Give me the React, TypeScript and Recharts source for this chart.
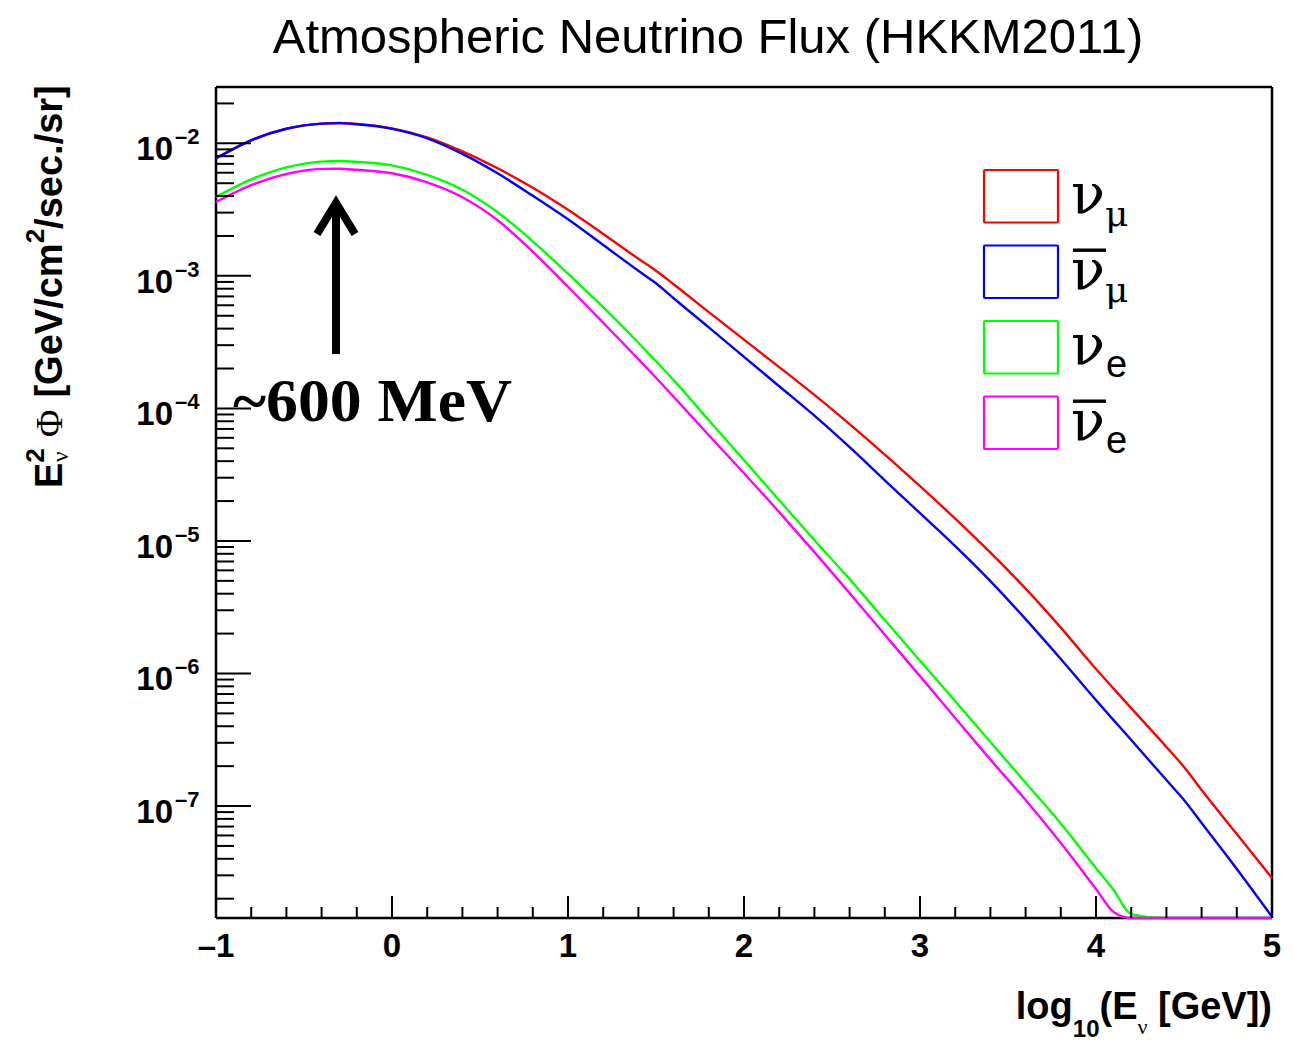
import React from "react";
import { LineChart, Line, XAxis, YAxis, ReferenceLine } from "recharts";

const W = 1294;
const H = 1042;
const SANS = "'Liberation Sans', Arial, Helvetica, sans-serif";
const SERIF = "'Liberation Serif', 'Times New Roman', serif";
const GREEK = "'DejaVu Serif', 'Liberation Serif', serif";

// ─── DATA ────────────────────────────────────────────────────────────────────

// log10(E_nu / GeV)
const LOG_E = [
  -1, -0.8, -0.6, -0.4, -0.3, -0.2, 0, 0.2, 0.4, 0.6, 0.8, 1.0, 1.2, 1.4, 1.5,
  1.6, 1.8, 2.0, 2.2, 2.4, 2.6, 2.8, 3.0, 3.2, 3.4, 3.6, 3.8, 4.0, 4.1, 4.2,
  4.4, 4.5, 4.6, 4.8, 5.0,
];

// axis range of E^2 Phi; values under Y_MIN are drawn on the floor
const Y_MIN = 1.43e-8;
const Y_MAX = 2.66e-2;

// E^2 Phi [GeV/cm^2/sec./sr]
const NU_MU = [
  7.71e-3, 1.054e-2, 1.288e-2, 1.409e-2, 1.422e-2, 1.403e-2, 1.297e-2, 1.11e-2,
  8.7e-3, 6.48e-3, 4.62e-3, 3.15e-3, 2.07e-3, 1.346e-3, 1.093e-3, 8.65e-4,
  5.33e-4, 3.3e-4, 2.05e-4, 1.264e-4, 7.6e-5, 4.48e-5, 2.59e-5, 1.473e-5,
  8.16e-6, 4.37e-6, 2.22e-6, 1.08e-6, 7.69e-7, 5.48e-7, 2.79e-7, 1.97e-7,
  1.32e-7, 6.15e-8, 2.86e-8,
];
const NU_MU_BAR = [
  7.71e-3, 1.054e-2, 1.288e-2, 1.409e-2, 1.42e-2, 1.391e-2, 1.286e-2, 1.091e-2,
  8.33e-3, 5.94e-3, 4.02e-3, 2.67e-3, 1.71e-3, 1.091e-3, 8.79e-4, 6.78e-4,
  4.09e-4, 2.45e-4, 1.47e-4, 8.81e-5, 5.1e-5, 2.87e-5, 1.62e-5, 9.14e-6,
  4.98e-6, 2.57e-6, 1.285e-6, 6.3e-7, 4.45e-7, 3.15e-7, 1.57e-7, 1.11e-7,
  7.45e-8, 3.35e-8, 1.46e-8,
];
const NU_E = [
  3.94e-3, 5.35e-3, 6.59e-3, 7.28e-3, 7.35e-3, 7.25e-3, 6.82e-3, 5.79e-3,
  4.46e-3, 3.02e-3, 1.823e-3, 1.037e-3, 5.8e-4, 3.13e-4, 2.27e-4, 1.633e-4,
  8.15e-5, 4.07e-5, 2.03e-5, 1.014e-5, 5.15e-6, 2.53e-6, 1.25e-6, 6.19e-7,
  3.04e-7, 1.5e-7, 7.38e-8, 3.4e-8, 2.33e-8, 1.53e-8, 1.43e-8, 1.43e-8,
  1.43e-8, 1.43e-8, 1.43e-8,
];
const NU_E_BAR = [
  3.61e-3, 4.83e-3, 5.87e-3, 6.41e-3, 6.43e-3, 6.31e-3, 5.94e-3, 5.08e-3,
  3.92e-3, 2.63e-3, 1.52e-3, 8.28e-4, 4.43e-4, 2.35e-4, 1.704e-4, 1.225e-4,
  6.28e-5, 3.24e-5, 1.65e-5, 8.24e-6, 4.04e-6, 1.96e-6, 9.55e-7, 4.61e-7,
  2.24e-7, 1.11e-7, 5.26e-8, 2.37e-8, 1.59e-8, 1.43e-8, 1.43e-8, 1.43e-8,
  1.43e-8, 1.43e-8, 1.43e-8,
];

// ticks
const X_MAJOR = [-1, 0, 1, 2, 3, 4, 5];
const X_MINOR_PER_UNIT = 5;
const Y_DECADES = [-8, -7, -6, -5, -4, -3, -2];
const Y_MANTISSAS = [1, 2, 3, 4, 5, 6, 7, 8, 9];

const SERIES = [
  { key: "numu", name: "nu_mu", color: "#ff0000", bar: false, sub: "\u03bc" },
  { key: "numubar", name: "anti nu_mu", color: "#0000ff", bar: true, sub: "\u03bc" },
  { key: "nue", name: "nu_e", color: "#00ff00", bar: false, sub: "e" },
  { key: "nuebar", name: "anti nu_e", color: "#ff00ff", bar: true, sub: "e" },
];

const rows = LOG_E.map((x, i) => ({
  x,
  numu: NU_MU[i],
  numubar: NU_MU_BAR[i],
  nue: NU_E[i],
  nuebar: NU_E_BAR[i],
}));

const X_TICKS: number[] = [];
for (let i = 0; i < X_MAJOR.length - 1; i++) {
  for (let k = 0; k < X_MINOR_PER_UNIT; k++) {
    X_TICKS.push(Math.round((X_MAJOR[i] + k / X_MINOR_PER_UNIT) * 100) / 100);
  }
}
X_TICKS.push(X_MAJOR[X_MAJOR.length - 1]);

const Y_TICKS = Y_DECADES.flatMap((d) =>
  Y_MANTISSAS.map((m) => Number((m * Math.pow(10, d)).toPrecision(3)))
).filter((v) => v >= Y_MIN && v <= Y_MAX);

// ─── TICKS (ROOT style, drawn inward) ────────────────────────────────────────

function XTick({ x, y, payload }: any) {
  const v = payload.value as number;
  const major = Math.abs(v - Math.round(v)) < 1e-6;
  return (
    <g>
      <line x1={x} x2={x} y1={y} y2={y - (major ? 22 : 11)} stroke="#000" strokeWidth={2} />
      {major && (
        <text
          x={x}
          y={y + 39}
          textAnchor="middle"
          fontFamily={SANS}
          fontWeight="bold"
          fontSize={33}
          fill="#000"
        >
          {v < 0 ? `\u2013${-v}` : `${v}`}
        </text>
      )}
    </g>
  );
}

function YTick({ x, y, payload }: any) {
  const v = payload.value as number;
  const e = Math.log10(v);
  const major = Math.abs(e - Math.round(e)) < 1e-6;
  return (
    <g>
      <line x1={x} x2={x + (major ? 35 : 18)} y1={y} y2={y} stroke="#000" strokeWidth={2} />
      {major && (
        <g fontFamily={SANS} fontWeight="bold" fill="#000">
          <text x={x - 43} y={y + 17} textAnchor="end" fontSize={33}>
            10
          </text>
          <text x={x - 41} y={y + 1} fontSize={22}>
            {`\u2013${-Math.round(e)}`}
          </text>
        </g>
      )}
    </g>
  );
}

// ─── OVERLAY: title, axis titles, legend, annotation ─────────────────────────

function Overlay() {
  return (
    <svg
      width={W}
      height={H}
      style={{ position: "absolute", left: 0, top: 0, pointerEvents: "none" }}
    >
      {/* title */}
      <text x={708} y={53} textAnchor="middle" fontFamily={SANS} fontSize={49} fill="#000">
        Atmospheric Neutrino Flux (HKKM2011)
      </text>

      {/* y title */}
      <text
        transform="translate(62,488) rotate(-90)"
        fontFamily={SANS}
        fontWeight="bold"
        fontSize={38}
        fill="#000"
      >
        <tspan>E</tspan>
        <tspan fontSize={26} dy={-18}>2</tspan>
        <tspan fontSize={24} dx={-14} dy={24} fontWeight="normal" fontFamily={SERIF}>
          {"\u03bd"}
        </tspan>
        <tspan dy={-6} dx={14} fontFamily={SERIF} fontWeight="normal">
          {"\u03a6"}
        </tspan>
        <tspan dx={12}>[GeV/cm</tspan>
        <tspan fontSize={26} dy={-18}>2</tspan>
        <tspan dy={18}>/sec./sr]</tspan>
      </text>

      {/* x title */}
      <text
        x={1272}
        y={1019}
        textAnchor="end"
        fontFamily={SANS}
        fontWeight="bold"
        fontSize={38}
        fill="#000"
      >
        <tspan>log</tspan>
        <tspan fontSize={24} dy={18}>10</tspan>
        <tspan dy={-18}>(E</tspan>
        <tspan fontSize={22} dy={15} fontWeight="normal" fontFamily={SERIF}>
          {"\u03bd"}
        </tspan>
        <tspan dy={-15}> [GeV])</tspan>
      </text>

      {/* legend */}
      {SERIES.map((s, i) => {
        const top = 170 + i * 75.5;
        return (
          <g key={s.key}>
            <rect x={984} y={top} width={74} height={52.5} rx={1} fill="#fff" stroke={s.color} strokeWidth={2.2} />
            {s.bar && <rect x={1073} y={top + 3} width={33} height={3.4} fill="#000" />}
            <text x={1071} y={top + 43} fontFamily={GREEK} fontSize={56} fill="#000">
              {"\u03bd"}
            </text>
            {s.sub === "e" ? (
              <text x={1106} y={top + 56} fontFamily={SANS} fontSize={38} fill="#000">
                e
              </text>
            ) : (
              <text x={1105} y={top + 56} fontFamily={GREEK} fontSize={36} fill="#000">
                {s.sub}
              </text>
            )}
          </g>
        );
      })}

      {/* ~600 MeV arrow */}
      <line x1={336} x2={336} y1={354} y2={206} stroke="#000" strokeWidth={8} />
      <polyline
        points="317,234 336,203 355,234"
        fill="none"
        stroke="#000"
        strokeWidth={8}
        strokeLinejoin="miter"
      />
      <text
        x={233}
        y={421}
        fontFamily={SERIF}
        fontWeight="bold"
        fontSize={62}
        textLength={279}
        lengthAdjust="spacingAndGlyphs"
        fill="#000"
      >
        ~600 MeV
      </text>
    </svg>
  );
}

// ─── MAIN ────────────────────────────────────────────────────────────────────

export default function App() {
  return (
    <div style={{ position: "absolute", left: 0, top: 0, width: W, height: H, background: "#fff" }}>
      <LineChart
        width={W}
        height={H}
        data={rows}
        margin={{ top: 87, right: 22, bottom: 0, left: 0 }}
      >
        <XAxis
          dataKey="x"
          type="number"
          domain={[-1, 5]}
          ticks={X_TICKS}
          interval={0}
          height={124}
          tickSize={0}
          tickMargin={0}
          tickLine={false}
          axisLine={{ stroke: "#000", strokeWidth: 2.5 }}
          tick={(p: any) => <XTick {...p} />}
        />
        <YAxis
          type="number"
          scale="log"
          domain={[Y_MIN, Y_MAX]}
          ticks={Y_TICKS}
          interval={0}
          width={216}
          tickSize={0}
          tickMargin={0}
          tickLine={false}
          axisLine={{ stroke: "#000", strokeWidth: 2.5 }}
          tick={(p: any) => <YTick {...p} />}
        />
        <ReferenceLine y={Y_MAX} stroke="#000" strokeWidth={2.5} />
        <ReferenceLine x={5} stroke="#000" strokeWidth={2.5} />
        {SERIES.map((s) => (
          <Line
            key={s.key}
            dataKey={s.key}
            name={s.name}
            type="monotone"
            stroke={s.color}
            strokeWidth={2.4}
            dot={false}
            activeDot={false}
            isAnimationActive={false}
            {...({ zIndex: 700 } as any)}
          />
        ))}
      </LineChart>
      <Overlay />
    </div>
  );
}
